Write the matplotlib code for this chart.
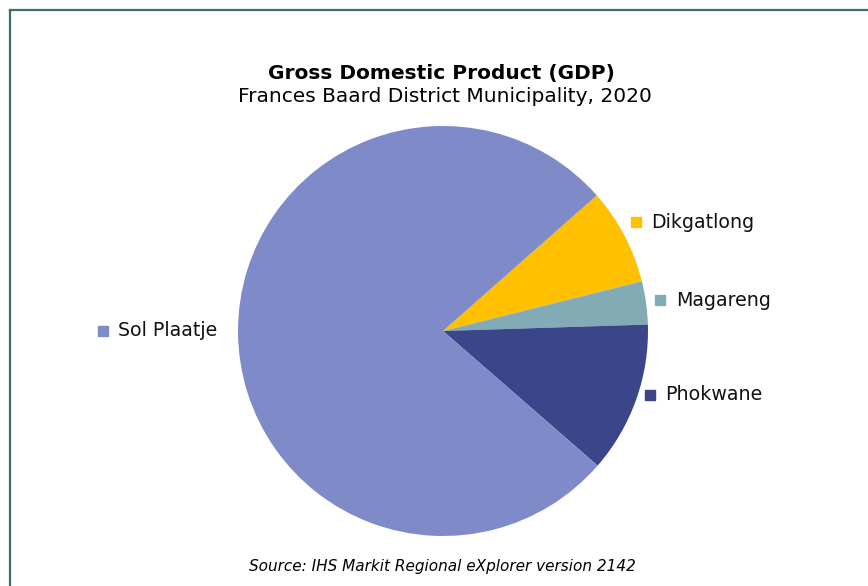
import matplotlib.pyplot as plt
from matplotlib.lines import Line2D

# GDP share by local municipality (%)
municipalities = ["Dikgatlong", "Magareng", "Phokwane", "Sol Plaatje"]
gdp_share = [7.6, 3.4, 11.9, 77.1]
colors = ["#FFC000", "#83ABB5", "#3A4689", "#7F8BC9"]

# label anchor (square marker) positions in pie-radius units
label_pos = [(0.94, 0.53), (1.06, 0.15), (1.01, -0.31), (-1.66, 0.0)]

W, H = 868, 586
fig = plt.figure(figsize=(W / 100, H / 100), dpi=100)
plt.rcParams['font.family'] = ['DejaVu Sans']

cx, cy, r = 443, 331, 205
ax = fig.add_axes([(cx - r) / W, (H - cy - r) / H, 2 * r / W, 2 * r / H])
ax.pie(gdp_share, colors=colors, startangle=41.4, counterclock=False,
       radius=1, wedgeprops=dict(linewidth=0))
ax.set_xlim(-1, 1)
ax.set_ylim(-1, 1)
ax.set_aspect('equal')
ax.axis('off')

for name, col, (x, y) in zip(municipalities, colors, label_pos):
    ax.plot([x], [y], marker='s', markersize=7.5, color=col, clip_on=False)
    ax.text(x + 0.075, y, name, fontsize=13.7, va='center', ha='left', color='#111111')

fig.text(441 / W, 1 - 73 / H, "Gross Domestic Product (GDP)", fontsize=14.5,
         fontweight='bold', ha='center', va='center')
fig.text(445 / W, 1 - 97 / H, "Frances Baard District Municipality, 2020",
         fontsize=14.5, ha='center', va='center')
fig.text(442 / W, 1 - 567 / H, "Source: IHS Markit Regional eXplorer version 2142",
         fontsize=11, style='italic', ha='center', va='center')

# chart frame (only top and left edges fall inside the image)
frame = '#3D6E6C'
fig.add_artist(Line2D([9.5 / W, 9.5 / W], [0, 1 - 10 / H], color=frame, lw=1.6,
                      transform=fig.transFigure))
fig.add_artist(Line2D([9.5 / W, 1], [1 - 10 / H, 1 - 10 / H], color=frame, lw=1.6,
                      transform=fig.transFigure))

fig.savefig("out.png", dpi=100)
